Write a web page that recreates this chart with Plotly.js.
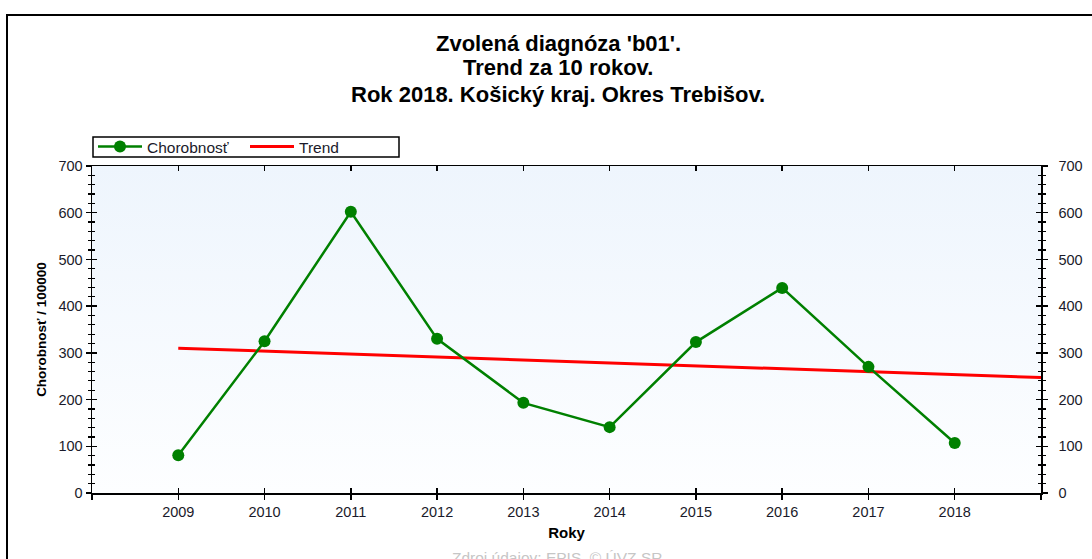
<!DOCTYPE html>
<html>
<head>
<meta charset="utf-8">
<script src="https://cdn.plot.ly/plotly-3.0.1.min.js"></script>
<style>
  html, body { margin: 0; padding: 0; background: #fff; overflow: hidden; }
  #wrap { position: relative; width: 1092px; height: 559px; overflow: hidden; }
  #chart { position: absolute; left: 0; top: 0; width: 1092px; height: 559px; }
  #frame { position: absolute; left: 6px; top: 14px; width: 1200px; height: 700px;
           border: 2px solid #000; pointer-events: none; }
</style>
</head>
<body>
<div id="wrap">
  <div id="chart"></div>
  <div id="frame"></div>
</div>
<script>
// ---- data ----
const years = [2009, 2010, 2011, 2012, 2013, 2014, 2015, 2016, 2017, 2018];
const chorobnost = [81, 325, 602, 330, 193, 141, 323, 439, 270, 107];
const trendYears = [2009, 2019];
const trendValues = [310, 247];
const xTickVals = [2008, 2009, 2010, 2011, 2012, 2013, 2014, 2015, 2016, 2017, 2018, 2019];
const xTickText = ['', '2009', '2010', '2011', '2012', '2013', '2014', '2015', '2016', '2017', '2018', ''];
const titleLines = ["Zvolená diagnóza 'b01'.", "Trend za 10 rokov.", "Rok 2018. Košický kraj. Okres Trebišov."];
const seriesNames = ['Chorobnosť', 'Trend'];
const xTitle = 'Roky';
const yTitle = 'Chorobnosť / 100000';
const sourceText = 'Zdroj údajov: EPIS, © ÚVZ SR';

const FONT = '"Liberation Sans", Arial, sans-serif';
const TXT = '#1a1a2a';

// plot-area geometry helpers (pixel -> paper fraction)
const PL = 92, PR = 1041, PT = 166, PB = 493;
const px = v => (v - PL) / (PR - PL);
const py = v => (PB - v) / (PB - PT);

const gradSvg = '<svg xmlns="http://www.w3.org/2000/svg" width="10" height="100" preserveAspectRatio="none">' +
  '<defs><linearGradient id="g" x1="0" y1="0" x2="0" y2="1">' +
  '<stop offset="0" stop-color="#eef5fd"/><stop offset="1" stop-color="#fdfeff"/></linearGradient></defs>' +
  '<rect width="10" height="100" fill="url(#g)"/></svg>';
const gradUri = 'data:image/svg+xml;base64,' + btoa(gradSvg);

const traces = [
  { x: [2008], y: [null], xaxis: 'x2', yaxis: 'y2', showlegend: false, hoverinfo: 'skip', mode: 'markers' },
  { x: [2008], y: [null], xaxis: 'x', yaxis: 'y3', showlegend: false, hoverinfo: 'skip', mode: 'markers' },
  {
    x: trendYears, y: trendValues, name: seriesNames[1], type: 'scatter', mode: 'lines',
    line: { color: '#ff0000', width: 3 }, legendrank: 2, xaxis: 'x', yaxis: 'y'
  },
  {
    x: years, y: chorobnost, name: seriesNames[0], type: 'scatter', mode: 'lines+markers',
    line: { color: '#008000', width: 2.5 }, marker: { color: '#008000', size: 12, symbol: 'circle' },
    legendrank: 1, xaxis: 'x', yaxis: 'y'
  }
];

const yCommon = {
  range: [0, 700], dtick: 100, tick0: 0, showgrid: false, zeroline: false,
  showline: true, linecolor: '#000', linewidth: 1.5, tickcolor: '#000', tickwidth: 1.5,
  tickfont: { family: FONT, size: 14.5, color: TXT }
};

const titleAnnots = titleLines.map((t, i) => ({
  text: '<b>' + t + '</b>', xref: 'paper', yref: 'paper',
  x: px(558), y: py([43, 68, 94][i]), xanchor: 'center', yanchor: 'middle', showarrow: false,
  font: { family: FONT, size: 22, color: '#000' }
}));

const layout = {
  width: 1092, height: 559,
  margin: { l: PL, r: 1092 - PR, t: PT, b: 559 - PB },
  paper_bgcolor: '#ffffff',
  plot_bgcolor: 'rgba(0,0,0,0)',
  font: { family: FONT, color: '#000' },
  showlegend: true,
  legend: {
    orientation: 'h', x: px(93), xanchor: 'left', y: py(130), yanchor: 'top',
    borderwidth: 0, bgcolor: 'rgba(0,0,0,0)',
    font: { family: FONT, size: 15.5, color: TXT },
    entrywidth: 93, traceorder: 'normal', itemwidth: 44
  },
  xaxis: {
    range: [2008, 2019], tickvals: xTickVals, ticktext: xTickText,
    ticks: 'outside', ticklen: 5, tickwidth: 1.5, tickcolor: '#000',
    showline: true, linecolor: '#000', linewidth: 1.5, showgrid: false, zeroline: false,
    tickfont: { family: FONT, size: 14.5, color: TXT },
    title: { text: '<b>' + xTitle + '</b>', font: { family: FONT, size: 15, color: '#000' }, standoff: 8 },
    anchor: 'y'
  },
  xaxis2: {
    overlaying: 'x', anchor: 'y', side: 'bottom',
    range: [2008, 2019], tickvals: xTickVals, ticktext: xTickText, showticklabels: false,
    ticks: 'inside', ticklen: 5, tickwidth: 1.5, tickcolor: '#000',
    showline: true, linecolor: '#000', linewidth: 1.5, mirror: 'ticks', showgrid: false, zeroline: false
  },
  yaxis: Object.assign({}, yCommon, {
    side: 'left', anchor: 'x', ticks: 'outside', ticklen: 5,
    minor: { dtick: 20, ticks: 'outside', ticklen: 3, tickwidth: 1.2, tickcolor: '#000', showgrid: false },
    title: { text: '<b>' + yTitle + '</b>', font: { family: FONT, size: 13.5, color: '#000' }, standoff: 8 }
  }),
  yaxis2: Object.assign({}, yCommon, {
    overlaying: 'y', side: 'right', anchor: 'x', ticks: 'outside', ticklen: 5,
    minor: { dtick: 20, ticks: 'outside', ticklen: 3, tickwidth: 1.2, tickcolor: '#000', showgrid: false },
    ticklabelstandoff: 8
  }),
  yaxis3: Object.assign({}, yCommon, {
    overlaying: 'y', side: 'left', anchor: 'x', ticks: 'inside', ticklen: 5, mirror: 'ticks',
    showticklabels: false,
    minor: { dtick: 20, ticks: 'inside', ticklen: 3, tickwidth: 1.2, tickcolor: '#000', showgrid: false }
  }),
  images: [{
    source: gradUri, xref: 'paper', yref: 'paper', x: 0, y: 1, sizex: 1, sizey: 1,
    sizing: 'stretch', xanchor: 'left', yanchor: 'top', layer: 'below'
  }],
  shapes: [{
    type: 'rect', xref: 'paper', yref: 'paper', x0: px(93), x1: px(399), y0: py(157), y1: py(137),
    line: { color: '#000', width: 1.5 }, fillcolor: 'rgba(0,0,0,0)', layer: 'above'
  }],
  annotations: titleAnnots.concat([{
    text: sourceText, xref: 'paper', yref: 'paper', x: px(557), y: py(557),
    xanchor: 'center', yanchor: 'middle', showarrow: false,
    font: { family: FONT, size: 15.5, color: '#c6c6c6' }
  }])
};

Plotly.newPlot('chart', traces, layout, { staticPlot: true, displayModeBar: false });
</script>
</body>
</html>
